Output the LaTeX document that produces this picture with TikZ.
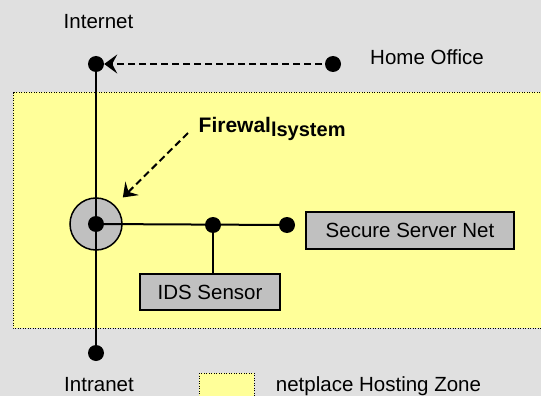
\documentclass[tikz,border=0pt]{standalone}
\usepackage{fontspec}
\setmainfont{Liberation Sans}
\usetikzlibrary{arrows.meta}
\definecolor{bg}{RGB}{224,224,224}
\definecolor{zone}{RGB}{255,255,153}
\definecolor{boxgray}{RGB}{192,192,192}
\begin{document}
\begin{tikzpicture}[x=1pt,y=-1pt,
  dot/.style={circle,fill=black,inner sep=0pt,minimum size=16pt},
  lbl/.style={font=\fontsize{20.5}{24}\selectfont,inner sep=0pt},
  gbox/.style={draw=black,line width=1.5pt,fill=boxgray,inner sep=0pt,font=\fontsize{20.5}{24}\selectfont},
  conn/.style={line width=2pt},
  dashline/.style={line width=2pt,dash pattern=on 7pt off 4pt},
  tip/.style={-{Stealth[length=13pt,width=19pt,inset=5pt]}},
  zonestyle/.style={fill=zone,draw=black,line width=1pt,dash pattern=on 1pt off 1.5pt}
]
\useasboundingbox (0,0) rectangle (541,396);
\fill[bg] (0,0) rectangle (541,396);
\draw[zonestyle] (13,92.5) rectangle (546,328);
\draw[zonestyle] (199,373) rectangle (254,402);
% firewall
\node[circle,draw=black,line width=1.5pt,fill=boxgray,minimum size=52pt,inner sep=0pt] (fw) at (96,224) {};
% dots
\node[dot] (inet) at (96,64) {};
\node[dot] (home) at (333,64) {};
\node[dot] (fwdot) at (96,224) {};
\node[dot] (tap) at (213,225) {};
\node[dot] (ssnend) at (287,225) {};
\node[dot] (intra) at (96,353) {};
% boxes
\node[gbox,minimum width=208pt,minimum height=37pt] (ssn) at (410,230.5) {Secure Server Net};
\node[gbox,minimum width=140pt,minimum height=36pt] (ids) at (210,292) {IDS Sensor};
% labels
\node[lbl,anchor=base] (tinet) at (98.5,28.3) {Internet};
\node[lbl,anchor=base] (thome) at (427,65) {Home Office};
\node[lbl,anchor=base] (tintra) at (99,391.7) {Intranet};
\node[lbl,anchor=base] (tzone) at (378.5,391.7) {netplace Hosting Zone};
\node[lbl,anchor=base west,font=\bfseries\fontsize{21}{24}\selectfont] (fwl) at (198.5,132.7) {Firewal\raisebox{-3.5pt}{\fontsize{20}{22}\selectfont lsystem}};
\coordinate (fwtail) at (188,133);
% connectors
\draw[conn] (inet.center) -- (intra.center);
\draw[conn] (fwdot.center) -- (ssnend.center);
\draw[conn] (tap.center) -- (tap.center |- ids.north);
\draw[dashline,tip] (home.center) -- (inet.east);
\draw[dashline,tip,shorten >=11pt] (fwtail) -- (fw);
\end{tikzpicture}
\end{document}
